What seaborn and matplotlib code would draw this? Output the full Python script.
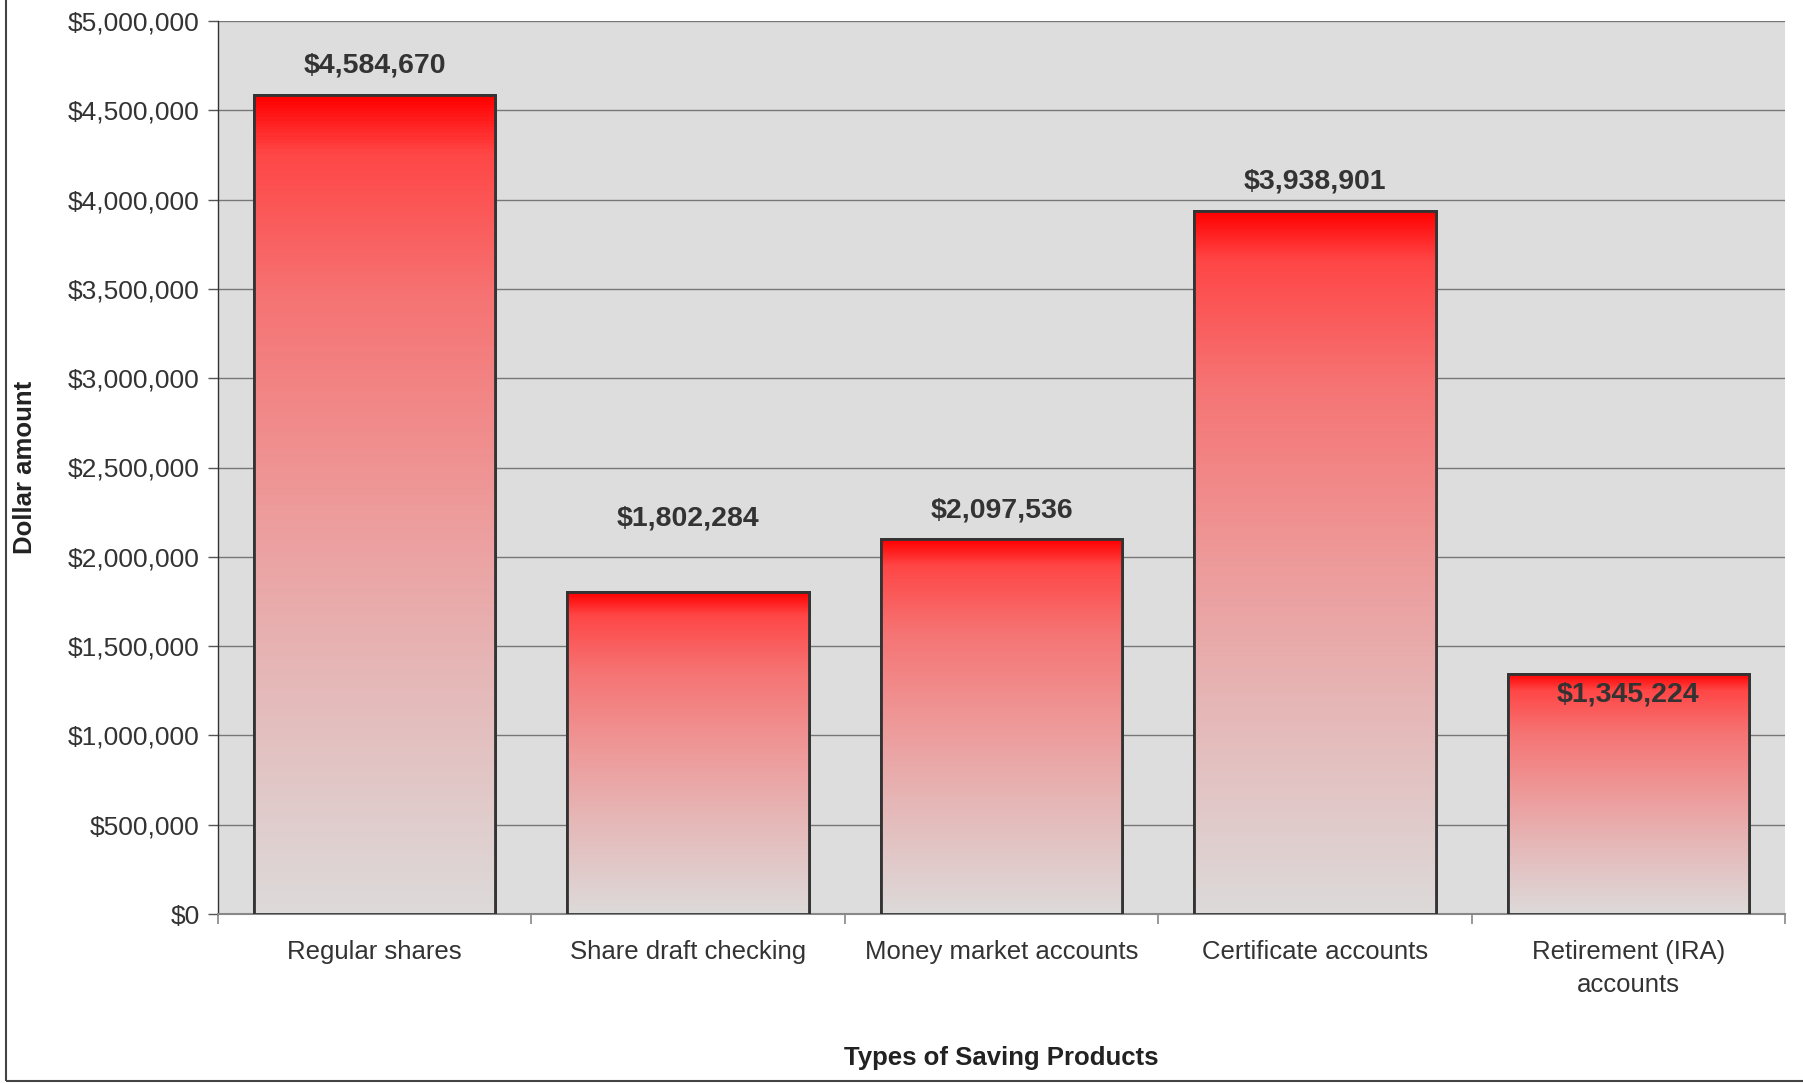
import matplotlib
matplotlib.use("Agg")

import numpy as np
import pandas as pd
import matplotlib.pyplot as plt
import seaborn as sns
from matplotlib.colors import LinearSegmentedColormap
from matplotlib.patches import Rectangle
from matplotlib.ticker import FuncFormatter, MultipleLocator

# data
products = ['Regular shares', 'Share draft checking', 'Money market accounts',
            'Certificate accounts', 'Retirement (IRA)\naccounts']
amounts = [4584670, 1802284, 2097536, 3938901, 1345224]
label_text = ['$4,584,670', '$1,802,284', '$2,097,536', '$3,938,901', '$1,345,224']
# label shift above the bar top (dollars), as Excel placed them
label_shift = [165000, 410000, 160000, 160000, -115000]

df = pd.DataFrame({'product': products, 'amount': amounts})

sns.set_theme(style='white')
plt.rcParams['font.family'] = ['Liberation Sans', 'DejaVu Sans']

fig = plt.figure(figsize=(18.03, 10.83), dpi=100)
ax = fig.add_axes([218 / 1803, 1 - 914 / 1083, (1785 - 218) / 1803, (914 - 21) / 1083])

sns.barplot(data=df, x='product', y='amount', ax=ax, width=0.77,
            color='#dddddd', edgecolor='#333333', linewidth=2, zorder=3)

ax.set_facecolor('#dddddd')
ax.set_ylim(0, 5000000)
ax.set_xlim(-0.5, len(products) - 0.5)

# red-to-grey gradient inside each bar (bottom -> top)
cmap = LinearSegmentedColormap.from_list(
    'redfade',
    [(0.0, '#dddada'), (0.3, '#e6b6b6'), (0.5, '#ee9a9a'),
     (0.75, '#f67474'), (0.93, '#ff4646'), (1.0, '#ff0000')])
grad = np.linspace(0, 1, 256).reshape(-1, 1)
for p in ax.patches:
    x0, y0 = p.get_x(), p.get_y()
    w, h = p.get_width(), p.get_height()
    im = ax.imshow(grad, cmap=cmap, origin='lower', aspect='auto',
                   extent=[x0, x0 + w, y0, y0 + h], zorder=3.5)
    im.set_clip_path(p)
    border = Rectangle((x0, y0), w, h, fill=False, edgecolor='#333333',
                       linewidth=2, zorder=4)
    ax.add_patch(border)

# value labels
for i, v in enumerate(amounts):
    ax.text(i, v + label_shift[i], label_text[i], ha='center', va='center',
            fontsize=20.5, fontweight='bold', color='#333333', zorder=5)

# grid and axes
ax.yaxis.set_major_locator(MultipleLocator(500000))
ax.yaxis.set_major_formatter(FuncFormatter(lambda v, _: f'${v:,.0f}'))
ax.grid(axis='y', color='#777777', linewidth=1.0, zorder=1)
ax.set_axisbelow(True)

for s in ['top', 'right']:
    ax.spines[s].set_visible(False)
ax.spines['left'].set_color('#333333')
ax.spines['left'].set_linewidth(1.0)
ax.spines['bottom'].set_color('#888888')
ax.spines['bottom'].set_linewidth(1.5)

ax.tick_params(axis='y', which='major', left=True, length=7, width=1,
               color='#555555', labelsize=19, labelcolor='#333333', pad=6)
ax.set_xticks(range(len(products)))
ax.set_xticklabels(products, fontsize=18.5, color='#333333', linespacing=1.45)
ax.tick_params(axis='x', which='major', bottom=False, pad=13)
ax.set_xticks(np.arange(-0.5, len(products) + 0.5, 1), minor=True)
ax.tick_params(axis='x', which='minor', bottom=True, length=7, width=1.2,
               color='#888888')

ax.set_xlabel('Types of Saving Products', fontsize=18.5, fontweight='bold',
              color='#222222', va='center')
ax.xaxis.set_label_coords(0.5, -144 / 893)
ax.set_ylabel('Dollar amount', fontsize=18.5, fontweight='bold', color='#222222',
              va='center')
ax.yaxis.set_label_coords(-193 / 1567, 0.5)

# chart frame (top and right run off the canvas)
frame = Rectangle((6 / 1803, 2 / 1083), 1.2, 1.2, transform=fig.transFigure,
                  fill=False, edgecolor='#444444', linewidth=1.5, clip_on=False)
fig.patches.append(frame)

fig.savefig('out.png', dpi=100, facecolor='white')
plt.close(fig)
